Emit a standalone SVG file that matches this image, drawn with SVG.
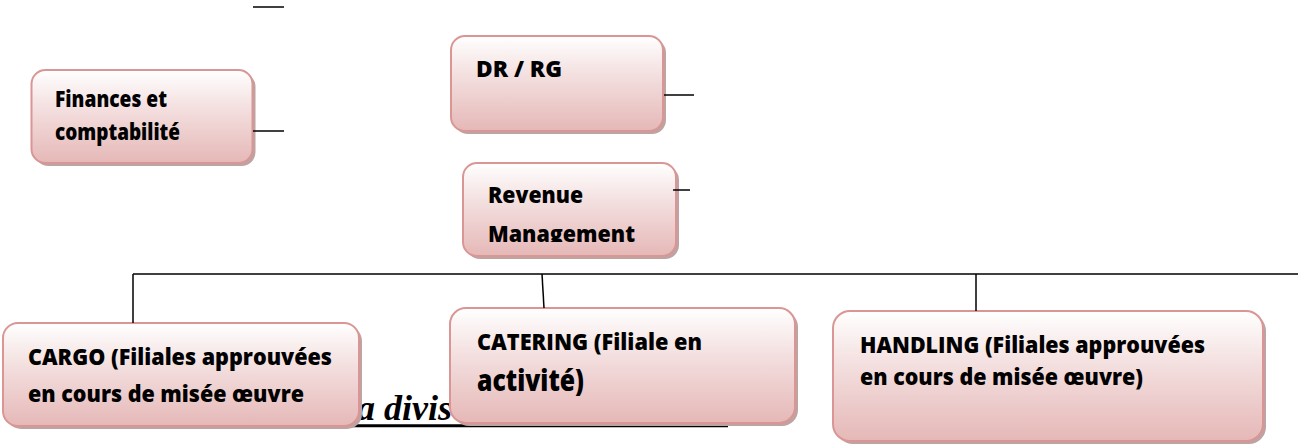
<svg xmlns="http://www.w3.org/2000/svg" width="1298" height="445" viewBox="0 0 1298 445">
  <style>
    .box { fill: url(#boxFill); stroke: #d99694; stroke-width: 2; }
    .shadow { fill: #bfa2a2; }
    .lbl { font-family: "Open Sans", "Noto Sans", "Liberation Sans", sans-serif; font-weight: 800; font-size: 22px; fill: #000; }
    .big { font-size: 30px; }
    .wire { stroke: #000; stroke-width: 1.5; fill: none; }
    .title { font-family: "Liberation Serif", "DejaVu Serif", serif; font-style: italic; font-weight: bold; font-size: 36px; fill: #000; }
  </style>
  <defs>
    <linearGradient id="boxFill" x1="0" y1="0" x2="0" y2="1">
      <stop offset="0" stop-color="#ffffff"/>
      <stop offset="0.4" stop-color="#f4e0e0"/>
      <stop offset="1" stop-color="#e5b8b7"/>
    </linearGradient>
    <clipPath id="revClip">
      <rect x="463" y="163" width="213" height="79"/>
    </clipPath>
  </defs>

  <!-- heading text partly covered by the boxes -->
  <g id="heading">
    <text class="title" x="347" y="420">la divis</text>
    <line x1="43" y1="425.7" x2="290" y2="425.7" stroke="#000" stroke-width="3"/>
    <line x1="300" y1="425.7" x2="728" y2="425.7" stroke="#000" stroke-width="3"/>
  </g>

  <g id="finances">
    <rect class="shadow" x="34.5" y="73" width="221" height="93" rx="14"/>
    <rect class="box" x="31.5" y="70" width="221" height="93" rx="14"/>
    <text class="lbl" x="55" y="107" textLength="112" lengthAdjust="spacingAndGlyphs">Finances et</text>
    <text class="lbl" x="55" y="140" textLength="125" lengthAdjust="spacingAndGlyphs">comptabilité</text>
  </g>

  <g id="dr-rg">
    <rect class="shadow" x="454" y="39" width="212" height="95" rx="14"/>
    <rect class="box" x="451" y="36" width="212" height="95" rx="14"/>
    <text class="lbl" x="476" y="77" textLength="86" lengthAdjust="spacingAndGlyphs">DR / RG</text>
  </g>

  <g id="revenue">
    <rect class="shadow" x="466" y="166" width="213" height="93" rx="14"/>
    <rect class="box" x="463" y="163" width="213" height="93" rx="14"/>
    <g clip-path="url(#revClip)">
      <text class="lbl" x="488" y="203" textLength="95" lengthAdjust="spacingAndGlyphs">Revenue</text>
      <text class="lbl" x="488" y="242" textLength="147" lengthAdjust="spacingAndGlyphs">Management</text>
    </g>
  </g>

  <g id="cargo">
    <rect class="shadow" x="6" y="326" width="356" height="103" rx="15"/>
    <rect class="box" x="3" y="323" width="356" height="103" rx="15"/>
    <text class="lbl" x="28" y="365" textLength="304" lengthAdjust="spacingAndGlyphs">CARGO (Filiales approuvées</text>
    <text class="lbl" x="28" y="402" textLength="276" lengthAdjust="spacingAndGlyphs">en cours de misée œuvre</text>
  </g>

  <g id="catering">
    <rect class="shadow" x="453" y="311" width="345" height="115" rx="16"/>
    <rect class="box" x="450" y="308" width="345" height="115" rx="16"/>
    <text class="lbl" x="477" y="350" textLength="225" lengthAdjust="spacingAndGlyphs">CATERING (Filiale en</text>
    <text class="lbl big" x="477" y="391" textLength="107" lengthAdjust="spacingAndGlyphs">activité)</text>
  </g>

  <g id="handling">
    <rect class="shadow" x="836" y="314" width="430" height="130" rx="17"/>
    <rect class="box" x="833" y="311" width="430" height="130" rx="17"/>
    <text class="lbl" x="860" y="353" textLength="345" lengthAdjust="spacingAndGlyphs">HANDLING (Filiales approuvées</text>
    <text class="lbl" x="860" y="385" textLength="283" lengthAdjust="spacingAndGlyphs">en cours de misée œuvre)</text>
  </g>

  <g id="connectors">
    <line class="wire" x1="253" y1="7" x2="284" y2="7"/>
    <line class="wire" x1="253" y1="131" x2="284" y2="131"/>
    <line class="wire" x1="664" y1="95" x2="694" y2="95"/>
    <line class="wire" x1="673" y1="190" x2="690" y2="190"/>
    <line class="wire" x1="133" y1="274" x2="1298" y2="274"/>
    <line class="wire" x1="133" y1="274" x2="133" y2="323"/>
    <line class="wire" x1="542" y1="274" x2="544" y2="308"/>
    <line class="wire" x1="976" y1="274" x2="976" y2="311"/>
  </g>
</svg>
